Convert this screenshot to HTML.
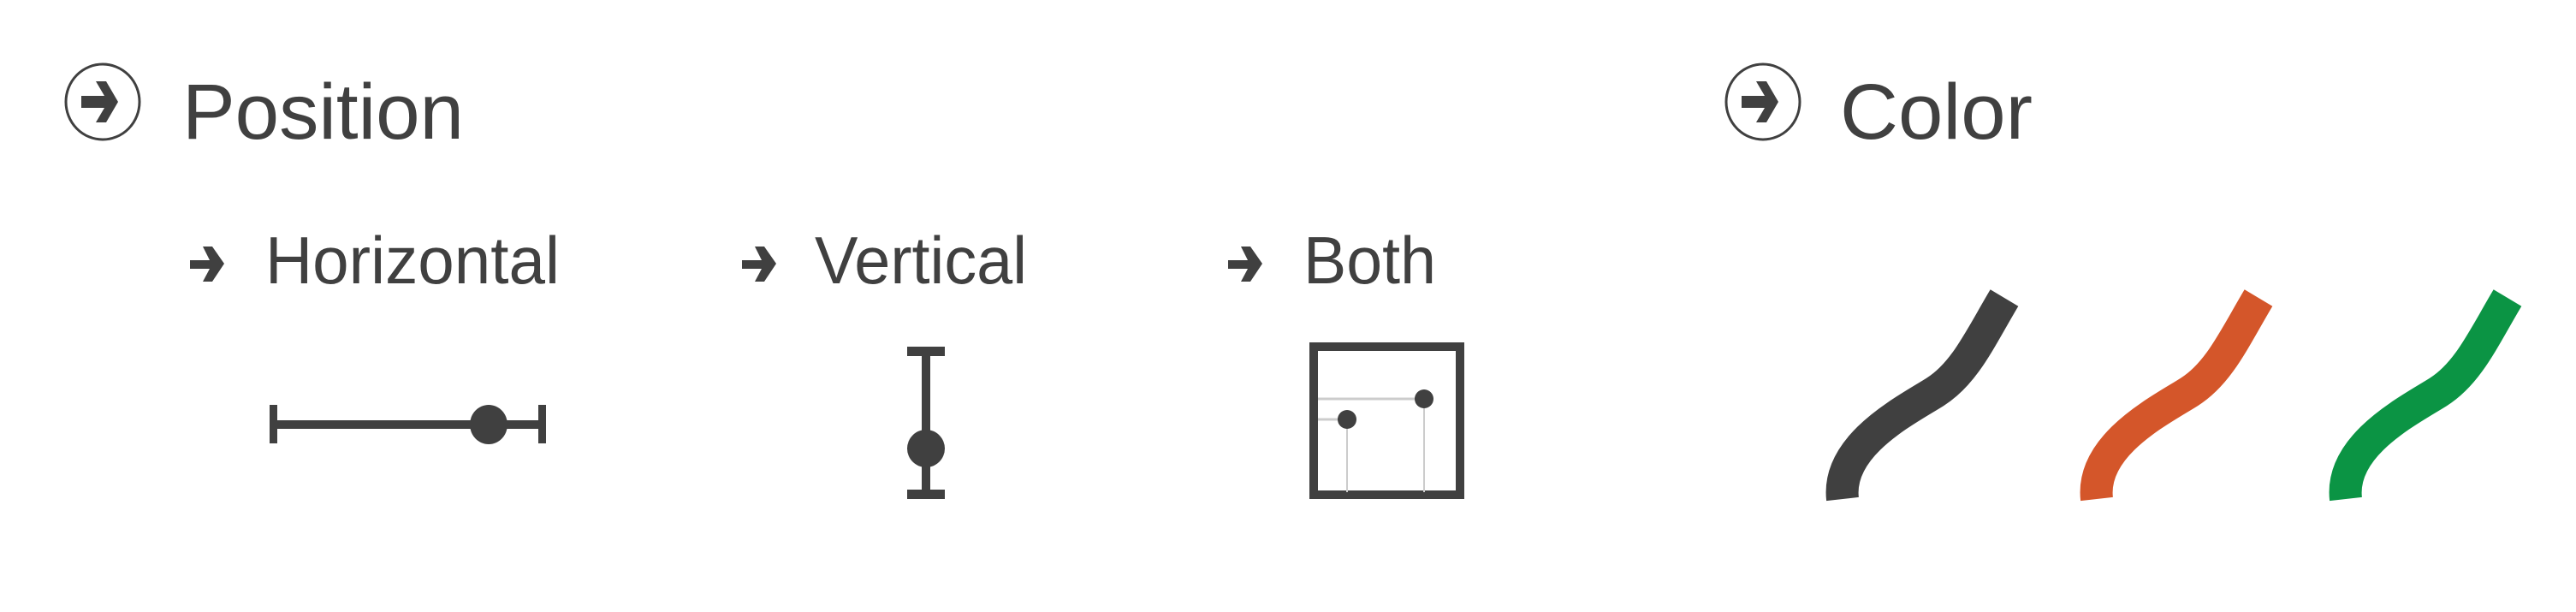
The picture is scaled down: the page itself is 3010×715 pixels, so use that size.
<!DOCTYPE html>
<html><head><meta charset="utf-8"><style>
html,body{margin:0;padding:0;background:#fff;}
svg{display:block;}
text{font-family:"Liberation Sans",sans-serif;fill:#404040;}
</style></head><body>
<svg width="3010" height="715" viewBox="0 0 3010 715">
  <g>
    <ellipse cx="120" cy="119" rx="43" ry="44" fill="none" stroke="#404040" stroke-width="3"/>
    <path d="M95,112 H122 L112,95 H124 L138,119 L124,143 H112 L122,126 H95 Z" fill="#404040"/>
    <text x="213" y="162" font-size="92" textLength="329" lengthAdjust="spacingAndGlyphs">Position</text>
  </g>
  <g>
    <ellipse cx="2060" cy="119" rx="43" ry="44" fill="none" stroke="#404040" stroke-width="3"/>
    <path d="M2035,112 H2062 L2052,95 H2064 L2078,119 L2064,143 H2052 L2062,126 H2035 Z" fill="#404040"/>
    <text x="2150" y="162" font-size="92" textLength="225" lengthAdjust="spacingAndGlyphs">Color</text>
  </g>
  <g>
    <path d="M222,304 H245 L237,288 H248 L262,308 L248,329 H237 L245,314 H222 Z" fill="#404040"/>
    <text x="310" y="331" font-size="78" textLength="344" lengthAdjust="spacingAndGlyphs">Horizontal</text>
  </g>
  <g>
    <path d="M867,304 H890 L882,288 H893 L907,308 L893,329 H882 L890,314 H867 Z" fill="#404040"/>
    <text x="952" y="331" font-size="78" textLength="248" lengthAdjust="spacingAndGlyphs">Vertical</text>
  </g>
  <g>
    <path d="M1435,304 H1458 L1450,288 H1461 L1475,308 L1461,329 H1450 L1458,314 H1435 Z" fill="#404040"/>
    <text x="1523" y="331" font-size="78" textLength="155" lengthAdjust="spacingAndGlyphs">Both</text>
  </g>
  <g fill="#404040">
    <rect x="315" y="473" width="9" height="45"/>
    <rect x="629" y="473" width="9" height="45"/>
    <rect x="318" y="491" width="316" height="10"/>
    <ellipse cx="571" cy="496" rx="22" ry="23"/>
  </g>
  <g fill="#404040">
    <rect x="1060" y="405" width="44" height="11"/>
    <rect x="1060" y="572" width="44" height="11"/>
    <rect x="1077" y="410" width="10" height="168"/>
    <ellipse cx="1082" cy="524" rx="22" ry="22"/>
  </g>
  <g>
    <rect x="1535" y="405" width="171" height="173" fill="none" stroke="#404040" stroke-width="10"/>
    <line x1="1540" y1="466" x2="1664" y2="466" stroke="#cccccc" stroke-width="3"/>
    <line x1="1540" y1="490" x2="1574" y2="490" stroke="#cccccc" stroke-width="3"/>
    <line x1="1574" y1="490" x2="1574" y2="575" stroke="#cccccc" stroke-width="2"/>
    <line x1="1664" y1="466" x2="1664" y2="575" stroke="#cccccc" stroke-width="2"/>
    <circle cx="1664" cy="466" r="11" fill="#404040"/>
    <circle cx="1574" cy="490" r="11" fill="#404040"/>
  </g>
  <g fill="none" stroke-width="38" stroke-linecap="butt">
    <path d="M2153,583 C2146,520 2226,480 2261,458 C2296,436 2314,395 2342,348" stroke="#404040"/>
    <path d="M2450,583 C2443,520 2523,480 2558,458 C2593,436 2611,395 2639,348" stroke="#d4562a"/>
    <path d="M2741,583 C2734,520 2814,480 2849,458 C2884,436 2902,395 2930,348" stroke="#0b9444"/>
  </g>
</svg>
</body></html>
